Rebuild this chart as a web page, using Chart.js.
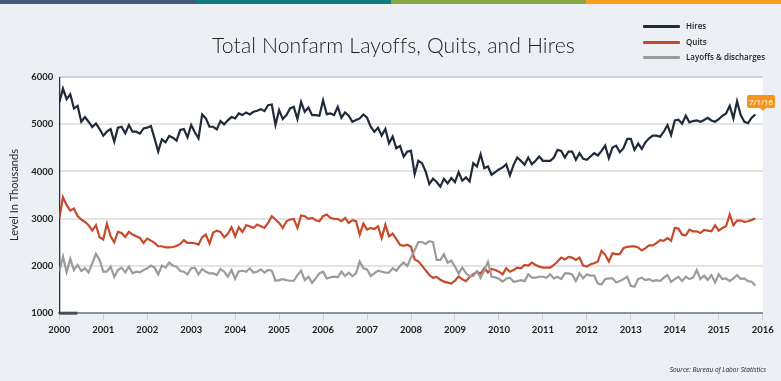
<!DOCTYPE html>
<html>
<head>
<meta charset="utf-8">
<script src="https://cdn.jsdelivr.net/npm/chart.js@4.4.1/dist/chart.umd.min.js"></script>
<style>
  html, body { margin:0; padding:0; }
  body { width:781px; height:381px; overflow:hidden; position:relative; background:#eceff4; font-family:"Lato", "Open Sans", sans-serif; }
  #stripe { position:absolute; left:0; top:0; width:781px; height:4px; display:flex; }
  #stripe div { flex:1; height:4px; }
  #chart { position:absolute; left:0; top:0; }
  #title { position:absolute; left:3px; width:781px; top:32px; text-align:center; font-size:21.2px; font-weight:300; color:#1e1e1e; letter-spacing:0.1px; }
  #legend { position:absolute; left:643px; top:19px; }
  .lg { position:relative; height:15.5px; }
  .lg span.ln { position:absolute; left:0; top:6px; width:37px; height:3px; border-radius:1px; }
  .lg span.tx { position:absolute; left:43px; top:0; font-family:"Open Sans", sans-serif; font-size:8px; font-weight:600; color:#1e1e1e; white-space:nowrap; line-height:14px; }
  #source { position:absolute; right:15px; top:365px; font-family:"Open Sans", sans-serif; font-size:6.5px; font-style:italic; color:#222; }
  #flag { position:absolute; left:747px; top:95px; width:28px; height:13px; background:#f7941d; color:#fff; font-family:"Open Sans", sans-serif; font-size:8px; text-align:center; line-height:13px; border-radius:2px; }
  #flag:after { content:""; position:absolute; left:13px; top:13px; border-left:3px solid transparent; border-right:3px solid transparent; border-top:3px solid #f7941d; }
</style>
</head>
<body>
<div id="stripe"></div>
<canvas id="chart" width="781" height="381"></canvas>
<div id="title">Total Nonfarm Layoffs, Quits, and Hires</div>
<div id="legend"></div>
<div id="source">Source: Bureau of Labor Statistics</div>
<div id="flag">7/1/16</div>
<script>
// ---- data (monthly, in thousands), Jan 2000 .. Nov 2015 ----
const startYear = 2000;
const endYear = 2016;
const seriesNames = ["Hires", "Quits", "Layoffs & discharges"];
const seriesColors = ["#1f2a3b", "#c9482a", "#9b9b9b"];
const stripeColors = ["#46597c", "#107a80", "#87a840", "#f89c1e"];
const yTicks = [1000, 2000, 3000, 4000, 5000, 6000];
const axisTitle = "Level In Thousands";

const hires = [
  5465, 5760, 5535, 5640, 5338, 5394, 5056, 5155, 5056, 4944, 5021, 4900,
  4760, 4845, 4900, 4634, 4930, 4950, 4810, 4986, 4845, 4845, 4803, 4915,
  4930, 4965, 4704, 4423, 4683, 4620, 4754, 4718, 4655, 4880, 4900, 4725,
  4986, 4831, 4704, 5211, 5127, 4950, 4950, 4894, 5070, 5000, 5085, 5155,
  5127, 5232, 5197, 5253, 5211, 5268, 5289, 5324, 5282, 5408, 5422, 4986,
  5303, 5113, 5197, 5338, 5373, 5113, 5479, 5268, 5359, 5197, 5197, 5183,
  5514, 5218, 5232, 5197, 5373, 5141, 5253, 5183, 5056, 5092, 5127, 5211,
  5141, 4951, 4845, 4930, 4761, 4901, 4599, 4740, 4493, 4542, 4317, 4423,
  4437, 3944, 4226, 4176, 4000, 3733, 3845, 3775, 3677, 3845, 3747, 3860,
  3775, 3986, 3803, 3874, 3789, 4176, 4106, 4366, 4071, 4106, 3930, 3986,
  4043, 4085, 4155, 3916, 4141, 4296, 4226, 4141, 4296, 4155, 4226, 4317,
  4226, 4226, 4226, 4296, 4458, 4437, 4296, 4423, 4423, 4247, 4387, 4268,
  4247, 4317, 4387, 4338, 4437, 4549, 4282, 4507, 4549, 4409, 4493, 4690,
  4690, 4458, 4592, 4479, 4620, 4704, 4761, 4761, 4740, 4845, 4986, 4775,
  5084, 5099, 5014, 5183, 5042, 5070, 5084, 5056, 5092, 5141, 5084, 5056,
  5113, 5183, 5232, 5394, 5127, 5493, 5197, 5056, 5028, 5141, 5211
];

const quits = [
  3000, 3454, 3284, 3170, 3213, 3050, 2979, 2929, 2858, 2744, 2858, 2602,
  2553, 2894, 2624, 2496, 2716, 2695, 2610, 2716, 2659, 2624, 2588, 2482,
  2574, 2531, 2482, 2411, 2411, 2389, 2389, 2396, 2418, 2460, 2538, 2482,
  2482, 2475, 2446, 2602, 2659, 2467, 2702, 2744, 2716, 2602, 2673, 2815,
  2624, 2816, 2716, 2858, 2836, 2800, 2871, 2836, 2800, 2907, 3050, 2979,
  2907, 2800, 2943, 2979, 2993, 2800, 3064, 3050, 2993, 3014, 2964, 2943,
  3050, 3086, 3014, 2993, 2990, 2943, 3014, 2907, 2964, 2943, 2657, 2893,
  2764, 2800, 2779, 2836, 2586, 2871, 2622, 2679, 2564, 2443, 2422, 2443,
  2400, 2130, 2090, 2000, 1900, 1800, 1740, 1760, 1700, 1660, 1640, 1620,
  1680, 1770, 1710, 1670, 1757, 1814, 1871, 1829, 1943, 1857, 1929, 1907,
  1871, 1814, 1943, 1871, 1907, 1957, 1943, 2014, 2000, 2064, 2014, 1979,
  1957, 1957, 1957, 2014, 2086, 2171, 2129, 2186, 2171, 2121, 2171, 2000,
  1979, 2029, 2050, 2086, 2314, 2229, 2086, 2264, 2243, 2243, 2371, 2400,
  2407, 2407, 2386, 2321, 2371, 2429, 2429, 2479, 2543, 2529, 2586, 2529,
  2800, 2786, 2657, 2643, 2764, 2729, 2729, 2693, 2757, 2743, 2729, 2857,
  2743, 2800, 2836, 3086, 2857, 2957, 2957, 2929, 2943, 2971, 3000
];

const layoffs = [
  1871, 2193, 1857, 2143, 1907, 2014, 1886, 1943, 1857, 2050, 2250, 2121,
  1871, 1871, 1979, 1757, 1907, 1957, 1857, 1979, 1836, 1871, 1857, 1907,
  1943, 2000, 1957, 1814, 2000, 1957, 2064, 2000, 1979, 1886, 1871, 1814,
  1943, 1957, 1814, 1929, 1871, 1836, 1836, 1800, 1929, 1871, 1764, 1907,
  1720, 1880, 1890, 1870, 1943, 1850, 1871, 1921, 1850, 1907, 1893, 1679,
  1693, 1714, 1693, 1679, 1679, 1800, 1893, 1693, 1764, 1636, 1729, 1836,
  1871, 1729, 1750, 1764, 1750, 1871, 1779, 1850, 1779, 1836, 2086, 1943,
  1921, 1779, 1836, 1893, 1871, 1850, 1850, 1943, 1893, 1993, 2064, 1993,
  2170, 2330, 2500, 2500, 2460, 2520, 2500, 2121, 2121, 2240, 2060, 2110,
  1980, 1830, 1960, 1840, 1770, 1780, 1880, 1740, 1900, 2080, 1764, 1750,
  1720, 1660, 1720, 1743, 1657, 1671, 1693, 1671, 1814, 1743, 1743, 1764,
  1764, 1743, 1814, 1729, 1764, 1714, 1836, 1836, 1814, 1671, 1836, 1729,
  1814, 1786, 1786, 1621, 1600, 1714, 1729, 1729, 1643, 1671, 1714, 1764,
  1571, 1550, 1714, 1743, 1693, 1714, 1671, 1693, 1671, 1743, 1800, 1657,
  1714, 1764, 1671, 1764, 1714, 1743, 1907, 1714, 1786, 1693, 1800, 1643,
  1814, 1714, 1729, 1671, 1729, 1800, 1714, 1729, 1671, 1657, 1571
];

// ---- decorations built from arrays ----
const stripe = document.getElementById('stripe');
stripeColors.forEach(c => { const d = document.createElement('div'); d.style.background = c; stripe.appendChild(d); });
const legend = document.getElementById('legend');
seriesNames.forEach((n, i) => {
  const row = document.createElement('div'); row.className = 'lg';
  row.innerHTML = '<span class="ln" style="background:' + seriesColors[i] + '"></span><span class="tx"></span>';
  row.querySelector('.tx').textContent = n;
  legend.appendChild(row);
});

const toPoints = arr => arr.map((v, i) => ({ x: startYear + i / 12, y: v }));
const allSeries = [hires, quits, layoffs];

const plotBg = {
  id: 'plotBg',
  beforeDraw(chart) {
    const { ctx, chartArea: a } = chart;
    ctx.save(); ctx.fillStyle = '#ffffff';
    ctx.fillRect(a.left, a.top, a.right - a.left, a.bottom - a.top);
    ctx.restore();
  },
  afterDraw(chart) {
    const { ctx, chartArea: a, scales } = chart;
    const x0 = scales.x.getPixelForValue(startYear);
    const x1 = scales.x.getPixelForValue(startYear + 0.41);
    ctx.save(); ctx.fillStyle = '#4a4d52';
    ctx.fillRect(x0, a.bottom - 1, x1 - x0, 3);
    ctx.restore();
  }
};

const tickFont = { family: 'Lato', size: 9.5, weight: 'bold' };

new Chart(document.getElementById('chart'), {
  type: 'line',
  data: {
    datasets: allSeries.map((arr, i) => ({
      label: seriesNames[i],
      data: toPoints(arr),
      borderColor: seriesColors[i],
      backgroundColor: seriesColors[i],
      borderWidth: 2.2,
      pointRadius: 0,
      tension: 0,
      order: 3 - i
    }))
  },
  options: {
    responsive: false,
    devicePixelRatio: 1,
    animation: false,
    layout: { padding: { left: 0, right: 18.3, top: 77.3, bottom: 38.3 } },
    plugins: { legend: { display: false }, tooltip: { enabled: false }, title: { display: false } },
    scales: {
      x: {
        type: 'linear', min: startYear, max: endYear,
        afterFit(s) { s.height = 30; },
        border: { display: true, color: '#8d9298', width: 2 },
        grid: { drawOnChartArea: false, drawTicks: true, tickLength: 7, color: '#c9cbce', lineWidth: 1 },
        ticks: { stepSize: 1, padding: 5, color: '#222', font: tickFont, maxRotation: 0, autoSkip: false,
                 callback: v => String(v) }
      },
      y: {
        min: yTicks[0], max: yTicks[yTicks.length - 1],
        afterFit(s) { s.width = 59.3; },
        afterBuildTicks(s) { s.ticks = yTicks.map(v => ({ value: v })); },
        border: { display: true, color: '#2d2f33', width: 1.3 },
        grid: { drawTicks: false, lineWidth: 2,
                color: c => (c.tick && c.tick.value === 6000) ? '#cfd2d6' : '#e4e4e4' },
        ticks: { padding: 6, color: '#222', font: tickFont, callback: v => String(v) },
        title: { display: true, text: axisTitle, color: '#2a2a2a', font: { family: 'Lato', size: 11 }, padding: { top: 8, bottom: 0 } }
      }
    }
  },
  plugins: [plotBg]
});
</script>
</body>
</html>
